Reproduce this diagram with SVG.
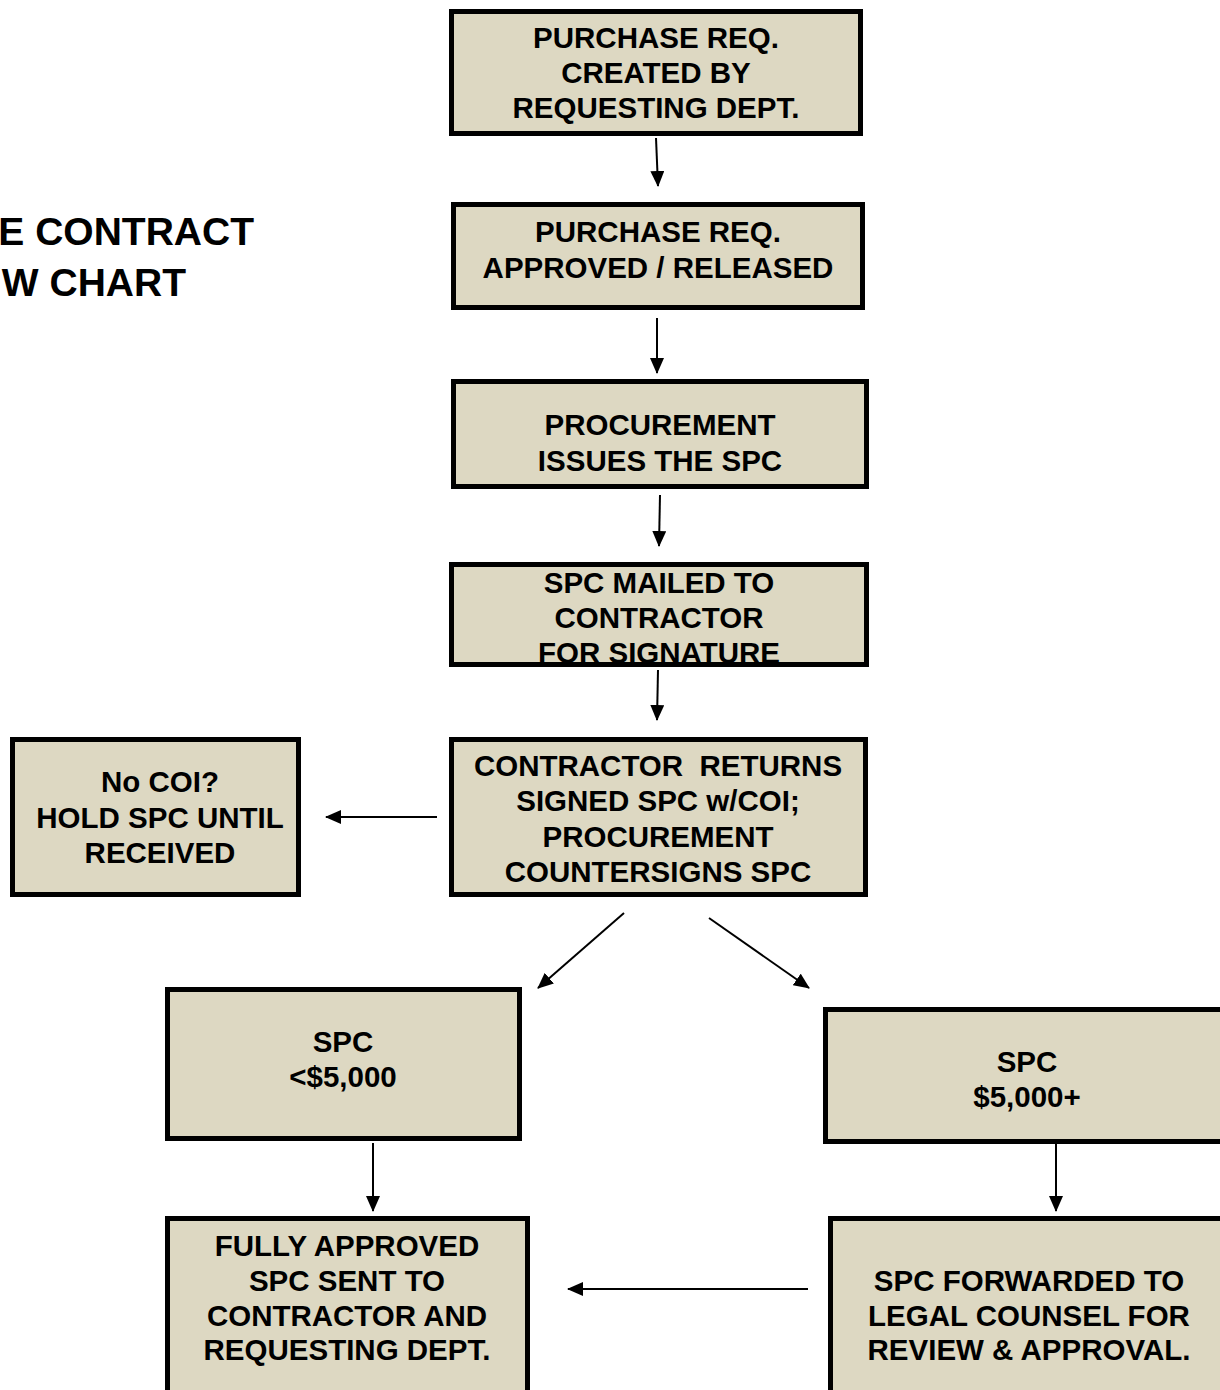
<svg xmlns="http://www.w3.org/2000/svg" width="1220" height="1390" viewBox="0 0 1220 1390">
<style>
.box{fill:#ddd8c2;stroke:#000;stroke-width:5}
.t{font-family:"Liberation Sans",Arial,sans-serif;font-weight:bold;font-size:29.5px;text-anchor:middle;fill:#000;white-space:pre}
.title{font-family:"Liberation Sans",Arial,sans-serif;font-weight:bold;font-size:39px;text-anchor:end;fill:#000}
.c{stroke:#000;stroke-width:2;fill:none}
</style>
<defs>
<marker id="a2" markerWidth="16" markerHeight="14" refX="15" refY="7" orient="auto" markerUnits="userSpaceOnUse" viewBox="0 0 16 14">
<path d="M0,0 L16,7 L0,14 Z" fill="#000"/>
</marker>
</defs>
<rect width="1220" height="1390" fill="#fff"/>
<g id="title">
<text class="title" x="254" y="245">E CONTRACT</text>
<text class="title" x="186" y="296">W CHART</text>
</g>
<g id="connectors">
<path class="c" d="M656,138 L658,186" marker-end="url(#a2)"/>
<path class="c" d="M657,318 L657,373" marker-end="url(#a2)"/>
<path class="c" d="M660,495 L659,546" marker-end="url(#a2)"/>
<path class="c" d="M658,670 L657,720" marker-end="url(#a2)"/>
<path class="c" d="M437,817 L326,817" marker-end="url(#a2)"/>
<path class="c" d="M624,913 L538,988" marker-end="url(#a2)"/>
<path class="c" d="M709,918 L809,988" marker-end="url(#a2)"/>
<path class="c" d="M373,1143 L373,1211" marker-end="url(#a2)"/>
<path class="c" d="M1056,1140 L1056,1211" marker-end="url(#a2)"/>
<path class="c" d="M808,1289 L568,1289" marker-end="url(#a2)"/>
</g>
<g id="n1">
<rect class="box" x="451.5" y="11.5" width="409" height="122"/>
<text class="t" x="656" y="48">PURCHASE REQ.</text>
<text class="t" x="656" y="83">CREATED BY</text>
<text class="t" x="656" y="118">REQUESTING DEPT.</text>
</g>
<g id="n2">
<rect class="box" x="453.5" y="204.5" width="409" height="103"/>
<text class="t" x="658" y="242">PURCHASE REQ.</text>
<text class="t" x="658" y="278">APPROVED / RELEASED</text>
</g>
<g id="n3">
<rect class="box" x="453.5" y="381.5" width="413" height="105"/>
<text class="t" x="660" y="435">PROCUREMENT</text>
<text class="t" x="660" y="471">ISSUES THE SPC</text>
</g>
<g id="n4">
<rect class="box" x="451.5" y="564.5" width="415" height="100"/>
<text class="t" x="659" y="593">SPC MAILED TO</text>
<text class="t" x="659" y="628">CONTRACTOR</text>
<text class="t" x="659" y="663">FOR SIGNATURE</text>
</g>
<g id="n5">
<rect class="box" x="451.5" y="739.5" width="414" height="155"/>
<text class="t" x="658" y="776">CONTRACTOR  RETURNS</text>
<text class="t" x="658" y="811">SIGNED SPC w/COI;</text>
<text class="t" x="658" y="847">PROCUREMENT</text>
<text class="t" x="658" y="882">COUNTERSIGNS SPC</text>
</g>
<g id="n6">
<rect class="box" x="12.5" y="739.5" width="286" height="155"/>
<text class="t" x="160" y="792">No COI?</text>
<text class="t" x="160" y="828">HOLD SPC UNTIL</text>
<text class="t" x="160" y="863">RECEIVED</text>
</g>
<g id="n7">
<rect class="box" x="167.5" y="989.5" width="352" height="149"/>
<text class="t" x="343" y="1052">SPC</text>
<text class="t" x="343" y="1087">&lt;$5,000</text>
</g>
<g id="n8">
<rect class="box" x="825.5" y="1009.5" width="400" height="132"/>
<text class="t" x="1027" y="1072">SPC</text>
<text class="t" x="1027" y="1107">$5,000+</text>
</g>
<g id="n9">
<rect class="box" x="167.5" y="1218.5" width="360" height="180"/>
<text class="t" x="347" y="1256">FULLY APPROVED</text>
<text class="t" x="347" y="1291">SPC SENT TO</text>
<text class="t" x="347" y="1326">CONTRACTOR AND</text>
<text class="t" x="347" y="1360">REQUESTING DEPT.</text>
</g>
<g id="n10">
<rect class="box" x="830.5" y="1218.5" width="400" height="180"/>
<text class="t" x="1029" y="1291">SPC FORWARDED TO</text>
<text class="t" x="1029" y="1326">LEGAL COUNSEL FOR</text>
<text class="t" x="1029" y="1360">REVIEW &amp; APPROVAL.</text>
</g>
</svg>
